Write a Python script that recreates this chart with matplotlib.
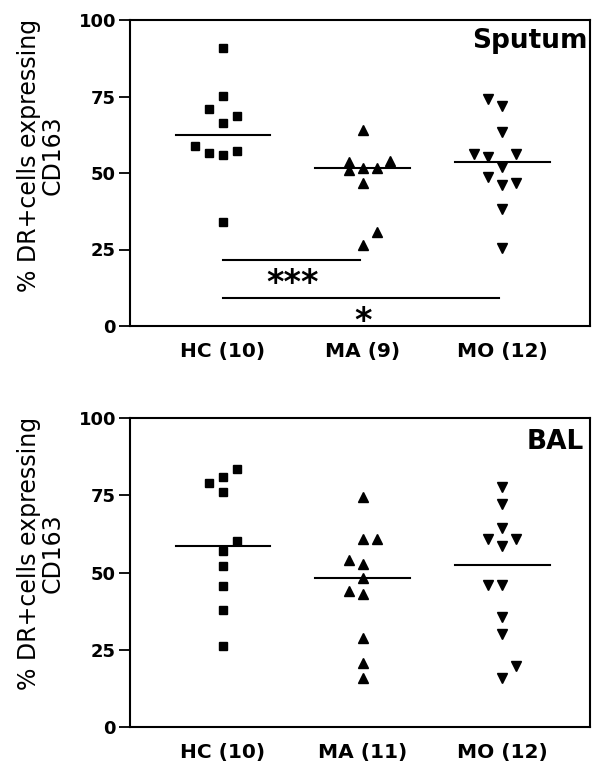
import numpy as np
import matplotlib.pyplot as plt

# Группы (подписи оси X)
labels_sputum = ['HC (10)', 'MA (9)', 'MO (12)']
labels_bal = ['HC (10)', 'MA (11)', 'MO (12)']

# Мокрота: % DR+ клеток, экспрессирующих CD163
hc_sputum = [90.7, 75.2, 70.8, 68.6, 66.2, 58.8, 56.6, 55.8, 57.1, 34.1]
ma_sputum = [64.1, 53.7, 51.0, 51.5, 51.5, 54.0, 46.8, 30.6, 26.5]
mo_sputum = [74.1, 71.9, 63.5, 56.2, 55.3, 56.2, 52.1, 48.6, 46.1, 46.8, 38.1, 25.4]

# колонки внутри "роя" точек (как в Prism)
hc_sputum_slot = [0, 0, -1, 1, 0, -2, -1, 0, 1, 0]
ma_sputum_slot = [0, -1, -1, 0, 1, 2, 0, 1, 0]
mo_sputum_slot = [-1, 0, 0, -2, -1, 1, 0, -1, 0, 1, 0, 0]

# БАЛ
hc_bal = [78.9, 80.8, 83.4, 76.2, 60.3, 57.0, 52.2, 45.6, 38.0, 26.2]
ma_bal = [74.4, 60.7, 61.0, 54.0, 52.9, 48.1, 44.0, 43.2, 28.8, 20.7, 15.8]
mo_bal = [77.6, 72.2, 64.3, 61.0, 60.7, 58.7, 45.9, 45.9, 35.6, 30.0, 19.6, 15.8]

hc_bal_slot = [-1, 0, 1, 0, 1, 0, 0, 0, 0, 0]
ma_bal_slot = [0, 0, 1, -1, 0, 0, -1, 0, 0, 0, 0]
mo_bal_slot = [0, 0, 0, -1, 1, 0, -1, 0, 0, 0, 1, 0]

# Значимость (группа 1, группа 2, уровень линии, метка)
sig_sputum = [(0, 1, 21.6, '***'), (0, 2, 9.3, '*')]

markers = ['s', '^', 'v']
marker_sizes = [6, 7.5, 7.5]
slot_w = 0.1
med_half = 0.34

FONT = 'DejaVu Sans'
ylabel_text = '% DR+cells expressing\nCD163'


def draw_panel(ax, groups, slots, xlabels, title, title_pos, sig=None):
    for i, (vals, sl) in enumerate(zip(groups, slots)):
        x = (i + 1) + np.array(sl) * slot_w
        ax.plot(x, vals, linestyle='none', marker=markers[i],
                markersize=marker_sizes[i], color='black', clip_on=False)
        med = np.median(vals)
        ax.plot([i + 1 - med_half, i + 1 + med_half], [med, med],
                color='black', lw=1.5)

    if sig:
        for g1, g2, y, txt in sig:
            ax.plot([g1 + 1, g2 + 1 - 0.02], [y, y], color='black', lw=1.5)
            ax.text((g1 + g2 + 2) / 2, y - 10.8, txt, ha='center',
                    va='baseline', fontsize=24, fontweight='bold',
                    family=FONT)

    ax.set_xlim(0.333, 3.63)
    ax.set_ylim(0, 100)
    ax.set_yticks([0, 25, 50, 75, 100])
    ax.set_xticks([1, 2, 3])
    ax.set_xticklabels(xlabels)
    for lab in ax.get_xticklabels():
        lab.set_fontsize(14.5)
        lab.set_fontweight('bold')
        lab.set_family(FONT)
    for lab in ax.get_yticklabels():
        lab.set_fontsize(13)
        lab.set_fontweight('bold')
        lab.set_family(FONT)
    ax.tick_params(axis='x', length=0, pad=11.5)
    ax.tick_params(axis='y', length=8, width=1.3, pad=2)
    for sp in ax.spines.values():
        sp.set_linewidth(1.5)

    ax.text(title_pos[0], title_pos[1], title, transform=ax.transAxes,
            ha='left', va='baseline', fontsize=title_pos[2],
            fontweight='bold', family=FONT)


fig = plt.figure(figsize=(5.92, 7.68), dpi=100)
ax1 = fig.add_axes([130 / 592, 1 - 326 / 768, 460 / 592, 306 / 768])
ax2 = fig.add_axes([130 / 592, 1 - 727 / 768, 460 / 592, 309 / 768])

draw_panel(ax1, [hc_sputum, ma_sputum, mo_sputum],
           [hc_sputum_slot, ma_sputum_slot, mo_sputum_slot],
           labels_sputum, 'Sputum', (0.744, 0.908, 19), sig_sputum)
draw_panel(ax2, [hc_bal, ma_bal, mo_bal],
           [hc_bal_slot, ma_bal_slot, mo_bal_slot],
           labels_bal, 'BAL', (0.863, 0.90, 19))

# Подписи оси Y
for yc in (155, 553):
    fig.text(41 / 592, 1 - yc / 768, ylabel_text, rotation=90, ha='center',
             va='center', multialignment='center', fontsize=17,
             linespacing=1.0, family=FONT)

fig.savefig('out.png', dpi=100)
